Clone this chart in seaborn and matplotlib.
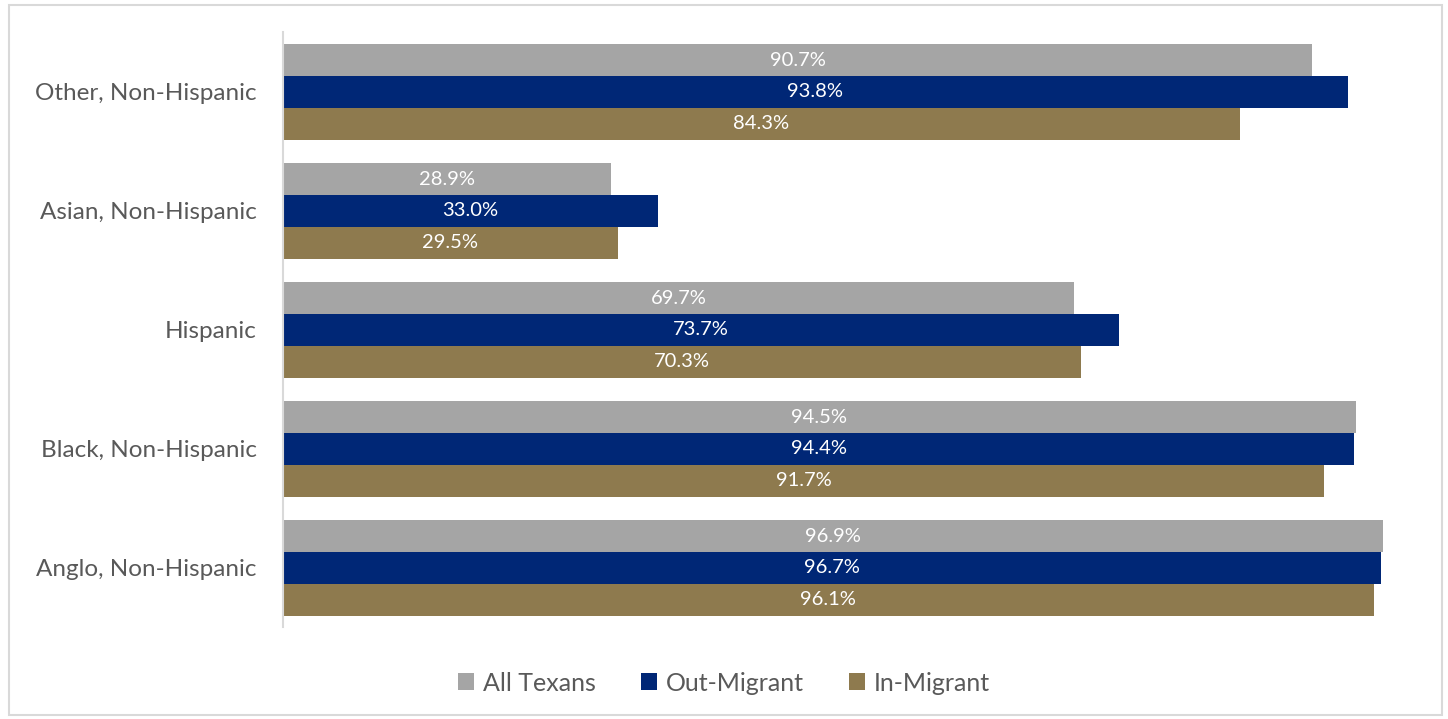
import pandas as pd
import matplotlib.pyplot as plt
import seaborn as sns
from matplotlib.patches import Rectangle

# Share by group (percent)
groups = ['Other, Non-Hispanic', 'Asian, Non-Hispanic', 'Hispanic',
          'Black, Non-Hispanic', 'Anglo, Non-Hispanic']
series = ['All Texans', 'Out-Migrant', 'In-Migrant']
all_texans = [90.7, 28.9, 69.7, 94.5, 96.9]
out_migrant = [93.8, 33.0, 73.7, 94.4, 96.7]
in_migrant = [84.3, 29.5, 70.3, 91.7, 96.1]
colors = ['#A5A5A5', '#002776', '#8E7A4E']

df = pd.DataFrame({
    'Group': groups * 3,
    'Series': [s for s in series for _ in groups],
    'Value': all_texans + out_migrant + in_migrant,
})

sns.set_style('white')
plt.rcParams['font.family'] = ['Lato', 'DejaVu Sans']
text_color = '#595959'

fig = plt.figure(figsize=(14.48, 7.19), dpi=100)
ax = fig.add_axes([0.1954, 0.1273, 0.7839, 0.8275])

sns.barplot(data=df, y='Group', x='Value', hue='Series', order=groups,
            hue_order=series, palette=colors, orient='h', width=0.8,
            saturation=1, linewidth=0, ax=ax)

for cont in ax.containers:
    ax.bar_label(cont, labels=[f'{v:.1f}%' for v in cont.datavalues],
                 label_type='center', color='white', fontsize=14.5)

ax.set_xlim(0, 100)
ax.set_xlabel('')
ax.set_ylabel('')
ax.set_xticks([])
ax.tick_params(axis='y', length=0, pad=19, labelsize=17.5, labelcolor=text_color)
for side in ['top', 'right', 'bottom']:
    ax.spines[side].set_visible(False)
ax.spines['left'].set_color('#D9D9D9')
ax.spines['left'].set_linewidth(1.5)

ax.legend(loc='center', bbox_to_anchor=(0.5, 0.05), bbox_transform=fig.transFigure,
          ncol=3, frameon=False, fontsize=18, labelcolor=text_color,
          handlelength=0.65, handleheight=0.65, handletextpad=0.35, columnspacing=1.8)

# outer chart border
fig.patches.append(Rectangle((0.006, 0.006), 0.99, 0.987, transform=fig.transFigure,
                             fill=False, edgecolor='#D9D9D9', linewidth=1.5))

fig.savefig('out.png', dpi=100)
